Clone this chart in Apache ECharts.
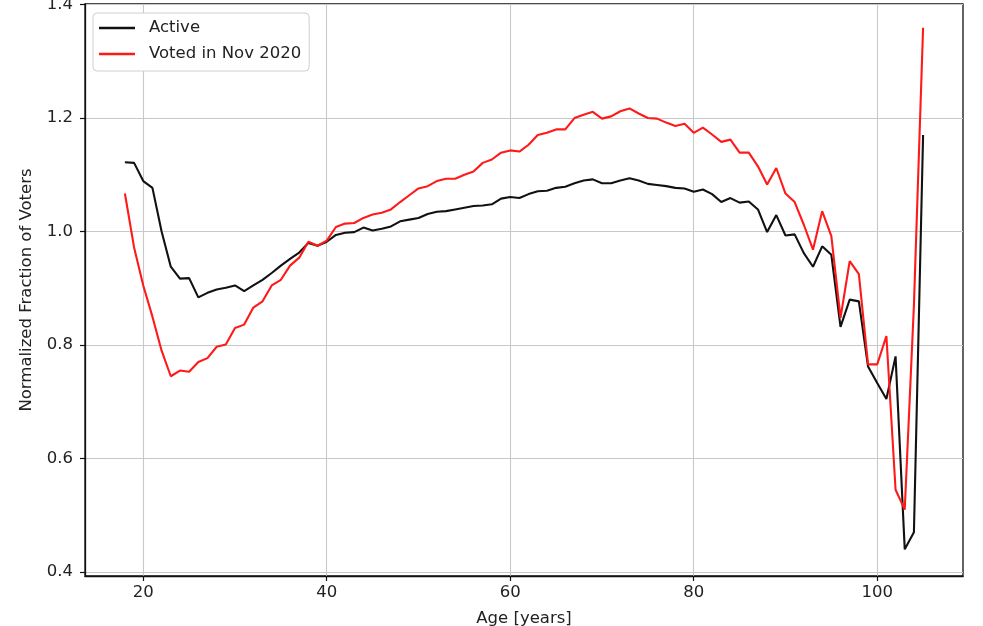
<!DOCTYPE html>
<html>
<head>
<meta charset="utf-8">
<script src="https://cdn.jsdelivr.net/npm/echarts@6/dist/echarts.min.js"></script>
<style>
  html, body { margin: 0; padding: 0; background: #ffffff; }
  #chart { width: 983px; height: 626px; }
</style>
</head>
<body>
<div id="chart"></div>
<script>
const ages = [18,19,20,21,22,23,24,25,26,27,28,29,30,31,32,33,34,35,36,37,38,39,40,41,42,43,44,45,46,47,48,49,50,51,52,53,54,55,56,57,58,59,60,61,62,63,64,65,66,67,68,69,70,71,72,73,74,75,76,77,78,79,80,81,82,83,84,85,86,87,88,89,90,91,92,93,94,95,96,97,98,99,100,101,102,103,104,105];

const active = [1.122,1.121,1.089,1.077,1.000,0.938,0.917,0.918,0.884,0.892,0.898,0.901,0.905,0.895,0.905,0.915,0.927,0.940,0.952,0.963,0.980,0.975,0.982,0.994,0.998,0.999,1.007,1.002,1.005,1.009,1.018,1.021,1.024,1.031,1.035,1.036,1.039,1.042,1.045,1.046,1.048,1.058,1.061,1.059,1.066,1.071,1.072,1.077,1.079,1.085,1.090,1.092,1.085,1.085,1.090,1.094,1.090,1.084,1.082,1.080,1.077,1.076,1.070,1.074,1.066,1.052,1.059,1.051,1.053,1.039,0.999,1.029,0.993,0.995,0.962,0.938,0.974,0.959,0.832,0.880,0.877,0.762,0.733,0.705,0.780,0.440,0.470,1.170];

const voted = [1.067,0.972,0.905,0.850,0.790,0.745,0.755,0.753,0.770,0.777,0.797,0.801,0.830,0.836,0.866,0.877,0.905,0.915,0.940,0.954,0.982,0.975,0.984,1.008,1.014,1.015,1.024,1.030,1.033,1.039,1.052,1.064,1.076,1.080,1.089,1.093,1.093,1.100,1.106,1.121,1.127,1.139,1.143,1.141,1.153,1.170,1.174,1.180,1.180,1.200,1.206,1.211,1.199,1.203,1.212,1.217,1.208,1.200,1.199,1.192,1.186,1.190,1.174,1.183,1.171,1.158,1.162,1.139,1.139,1.115,1.083,1.112,1.067,1.052,1.012,0.968,1.036,0.992,0.848,0.948,0.925,0.766,0.766,0.816,0.545,0.510,0.870,1.359];

const xTicks = [20, 40, 60, 80, 100];
const yTicks = [0.4, 0.6, 0.8, 1.0, 1.2, 1.4];

const seriesNames = ['Active', 'Voted in Nov 2020'];
const xName = 'Age [years]';
const yName = 'Normalized Fraction of Voters';

const font = 'DejaVu Sans';
const chart = echarts.init(document.getElementById('chart'), null, { renderer: 'canvas' });

const toPairs = (vals) => ages.map((a, i) => [a, vals[i]]);

chart.setOption({
  animation: false,
  backgroundColor: '#ffffff',
  textStyle: { fontFamily: font },
  grid: {
    left: 85, right: 20, top: 4, bottom: 50,
    containLabel: false, outerBoundsMode: 'none',
    show: true, borderColor: '#111', borderWidth: 1.3, backgroundColor: 'transparent'
  },
  legend: {
    orient: 'vertical',
    left: 93, top: 13,
    padding: [5, 8, 7, 6],
    icon: 'rect',
    itemWidth: 36, itemHeight: 2.6, itemGap: 6,
    backgroundColor: '#ffffff',
    borderColor: '#d0d0d0', borderWidth: 1, borderRadius: 4,
    textStyle: { fontFamily: font, fontSize: 16.5, color: '#222', lineHeight: 20, padding: [0, 0, 0, 9] },
    data: seriesNames
  },
  xAxis: {
    type: 'value',
    min: 13.65, max: 109.35,
    name: xName, nameLocation: 'middle', nameGap: 34,
    nameTextStyle: { fontFamily: font, fontSize: 16.5, color: '#222' },
    axisLine: { show: true, onZero: false, lineStyle: { color: '#111', width: 1.3 } },
    axisTick: { show: true, inside: false, length: 5, customValues: xTicks, lineStyle: { color: '#111', width: 1.2 } },
    axisLabel: { customValues: xTicks, margin: 8, fontFamily: font, fontSize: 16.5, color: '#222' },
    splitLine: { show: true, lineStyle: { color: '#c8c8c8', width: 1.1 } }
  },
  yAxis: {
    type: 'value',
    min: 0.393, max: 1.401,
    name: yName, nameLocation: 'middle', nameGap: 50, nameRotate: 90,
    nameTextStyle: { fontFamily: font, fontSize: 16.5, color: '#222' },
    axisLine: { show: true, onZero: false, lineStyle: { color: '#111', width: 1.3 } },
    axisTick: { show: true, inside: false, length: 5, customValues: yTicks, lineStyle: { color: '#111', width: 1.2 } },
    axisLabel: { customValues: yTicks, margin: 12, fontFamily: font, fontSize: 16.5, color: '#222',
      formatter: (v) => Number(v).toFixed(1) },
    splitLine: { show: true, lineStyle: { color: '#c8c8c8', width: 1.1 } }
  },
  series: [
    {
      name: seriesNames[0], type: 'line', symbol: 'none', data: toPairs(active),
      lineStyle: { color: '#111111', width: 2.1 }, itemStyle: { color: '#111111' }, z: 3
    },
    {
      name: seriesNames[1], type: 'line', symbol: 'none', data: toPairs(voted),
      lineStyle: { color: '#ff1a1a', width: 2.1 }, itemStyle: { color: '#ff1a1a' }, z: 4
    }
  ]
});
</script>
</body>
</html>
